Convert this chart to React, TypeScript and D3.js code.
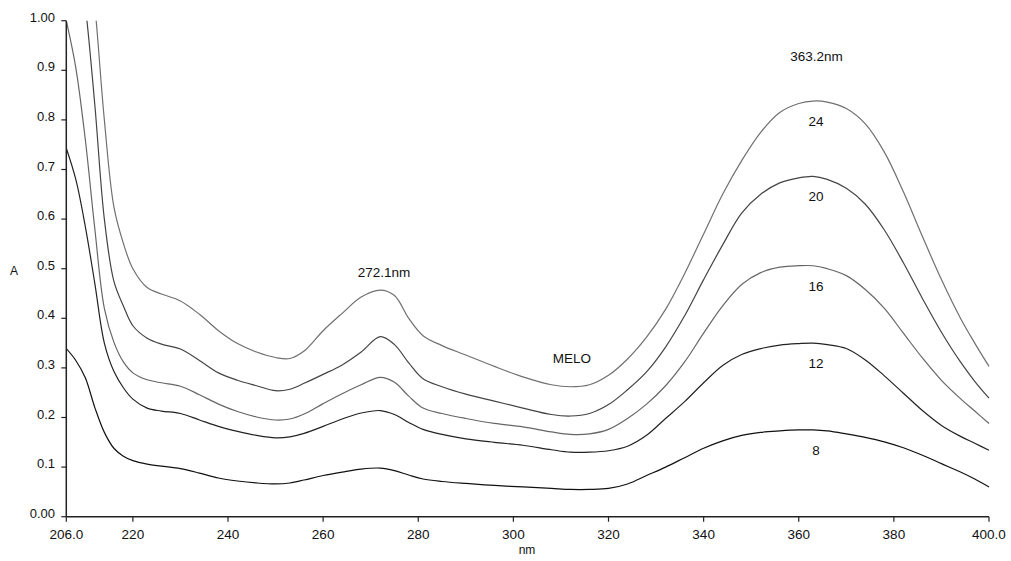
import React, { useEffect } from "react";
import * as d3 from "d3";

const wavelengths = [206, 208, 210, 212, 214, 216, 218, 220, 223, 226, 230, 234, 238, 242, 246, 250, 253, 256, 260, 264, 268, 272, 275, 278, 281, 285, 290, 296, 302, 308, 312, 316, 320, 324, 328, 332, 336, 340, 344, 348, 352, 356, 360, 363, 366, 370, 374, 378, 382, 386, 390, 394, 397, 400];

const s8 = [0.339, 0.315, 0.28, 0.22, 0.17, 0.138, 0.122, 0.113, 0.106, 0.102, 0.097, 0.088, 0.078, 0.072, 0.068, 0.066, 0.068, 0.074, 0.083, 0.09, 0.096, 0.098, 0.093, 0.084, 0.076, 0.071, 0.067, 0.063, 0.06, 0.057, 0.055, 0.055, 0.057, 0.066, 0.083, 0.1, 0.119, 0.138, 0.153, 0.164, 0.17, 0.173, 0.175, 0.175, 0.173, 0.167, 0.16, 0.151, 0.139, 0.124, 0.107, 0.09, 0.076, 0.06];
const s12 = [0.743, 0.68, 0.585, 0.47, 0.35, 0.293, 0.26, 0.237, 0.219, 0.213, 0.208, 0.195, 0.182, 0.172, 0.164, 0.159, 0.161, 0.168, 0.182, 0.197, 0.209, 0.214, 0.206, 0.19, 0.176, 0.166, 0.157, 0.15, 0.144, 0.135, 0.13, 0.13, 0.133, 0.142, 0.164, 0.198, 0.232, 0.27, 0.305, 0.327, 0.339, 0.346, 0.349, 0.35, 0.347, 0.339, 0.316, 0.284, 0.249, 0.214, 0.184, 0.162, 0.148, 0.134];
const s16 = [1.0, 0.905, 0.76, 0.58, 0.42, 0.352, 0.312, 0.29, 0.276, 0.27, 0.263, 0.246, 0.227, 0.212, 0.201, 0.195, 0.197, 0.207, 0.228, 0.248, 0.266, 0.281, 0.271, 0.243, 0.219, 0.208, 0.198, 0.188, 0.181, 0.171, 0.166, 0.167, 0.176, 0.198, 0.227, 0.264, 0.312, 0.37, 0.425, 0.468, 0.492, 0.503, 0.506, 0.506, 0.5, 0.486, 0.458, 0.42, 0.37, 0.32, 0.275, 0.238, 0.213, 0.188];
const s20 = [1.35, 1.17, 1.03, 0.83, 0.6, 0.475, 0.425, 0.385, 0.36, 0.348, 0.338, 0.315, 0.29, 0.275, 0.264, 0.254, 0.257, 0.269, 0.287, 0.306, 0.332, 0.363, 0.347, 0.31, 0.278, 0.262, 0.247, 0.233, 0.219, 0.206, 0.203, 0.208, 0.226, 0.256, 0.292, 0.342, 0.405, 0.478, 0.548, 0.612, 0.65, 0.673, 0.683, 0.686, 0.68, 0.662, 0.63, 0.578, 0.512, 0.44, 0.372, 0.312, 0.273, 0.239];
const s24 = [1.6, 1.4, 1.2, 1.03, 0.8, 0.625, 0.551, 0.5, 0.462, 0.449, 0.435, 0.408, 0.375, 0.349, 0.332, 0.321, 0.319, 0.334, 0.375, 0.41, 0.443, 0.457, 0.446, 0.4, 0.365, 0.345, 0.326, 0.303, 0.282, 0.266, 0.262, 0.266, 0.285, 0.318, 0.362, 0.418, 0.49, 0.57, 0.65, 0.718, 0.775, 0.815, 0.833, 0.838, 0.836, 0.823, 0.792, 0.735, 0.655, 0.565, 0.478, 0.4, 0.35, 0.303];

const seriesNames = ["8", "12", "16", "20", "24"];
const seriesValues = [s8, s12, s16, s20, s24];
const seriesColors = ["#111111", "#222222", "#666666", "#444444", "#707070"];

const xTickValues = [206, 220, 240, 260, 280, 300, 320, 340, 360, 380, 400];
const xTickLabels = ["206.0", "220", "240", "260", "280", "300", "320", "340", "360", "380", "400.0"];
const yTickValues = [0, 0.1, 0.2, 0.3, 0.4, 0.5, 0.6, 0.7, 0.8, 0.9, 1.0];
const yTickLabels = ["0.00", "0.1", "0.2", "0.3", "0.4", "0.5", "0.6", "0.7", "0.8", "0.9", "1.00"];

const peakLabelNm = 363.2;
const peakLabelValues = [0.175, 0.35, 0.506, 0.686, 0.838];

const W = 1011;
const H = 561;
const L = 66.3, R = 989, T = 20.7, B = 516.7;

export default function App() {
  useEffect(() => {
    document.body.style.margin = "0";
  }, []);
  const x = d3.scaleLinear().domain([206, 400]).range([L, R]);
  const y = d3.scaleLinear().domain([0, 1]).range([B, T]);
  const line = d3
    .line<number>()
    .x((_, i) => x(wavelengths[i]))
    .y((d) => y(d))
    .curve(d3.curveCatmullRom.alpha(0.5));
  const font = "'Liberation Sans', Arial, sans-serif";
  return (
    <svg width={W} height={H} style={{ display: "block", background: "#fff" }} fontFamily={font}>
      <defs>
        <clipPath id="plot">
          <rect x={L} y={T} width={R - L + 2} height={B - T} />
        </clipPath>
      </defs>
      <g clipPath="url(#plot)">
        {seriesValues.map((vals, i) => (
          <path key={seriesNames[i]} d={line(vals) || ""} fill="none" stroke={seriesColors[i]} strokeWidth={1.2} />
        ))}
      </g>
      <line x1={L} x2={L} y1={T} y2={B} stroke="#222" strokeWidth={1.5} />
      <line x1={L} x2={R} y1={B} y2={B} stroke="#222" strokeWidth={1.5} />
      {yTickValues.map((v, i) => (
        <g key={"y" + i}>
          <line x1={L - 5} x2={L} y1={y(v)} y2={y(v)} stroke="#222" strokeWidth={1.2} />
          <text x={55} y={y(v) + 1} textAnchor="end" fontSize={13} fill="#111">
            {yTickLabels[i]}
          </text>
        </g>
      ))}
      {xTickValues.map((v, i) => (
        <g key={"x" + i}>
          <line x1={x(v)} x2={x(v)} y1={B} y2={B + 5} stroke="#222" strokeWidth={1.2} />
          <text x={x(v)} y={B + 22.5} textAnchor="middle" fontSize={13.5} fill="#111">
            {xTickLabels[i]}
          </text>
        </g>
      ))}
      <text x={14} y={275} textAnchor="middle" fontSize={12} fill="#111">A</text>
      <text x={527} y={554} textAnchor="middle" fontSize={12} fill="#111">nm</text>
      <text x={384} y={276.5} textAnchor="middle" fontSize={13.5} fill="#111">272.1nm</text>
      <text x={572} y={362.5} textAnchor="middle" fontSize={13.5} fill="#111">MELO</text>
      <text x={816.5} y={60.5} textAnchor="middle" fontSize={13.5} fill="#111">363.2nm</text>
      {seriesNames.map((n, i) => (
        <text key={"l" + n} x={x(peakLabelNm) + 2} y={y(peakLabelValues[i]) + 25} textAnchor="middle" fontSize={13.5} fill="#111">
          {n}
        </text>
      ))}
    </svg>
  );
}
